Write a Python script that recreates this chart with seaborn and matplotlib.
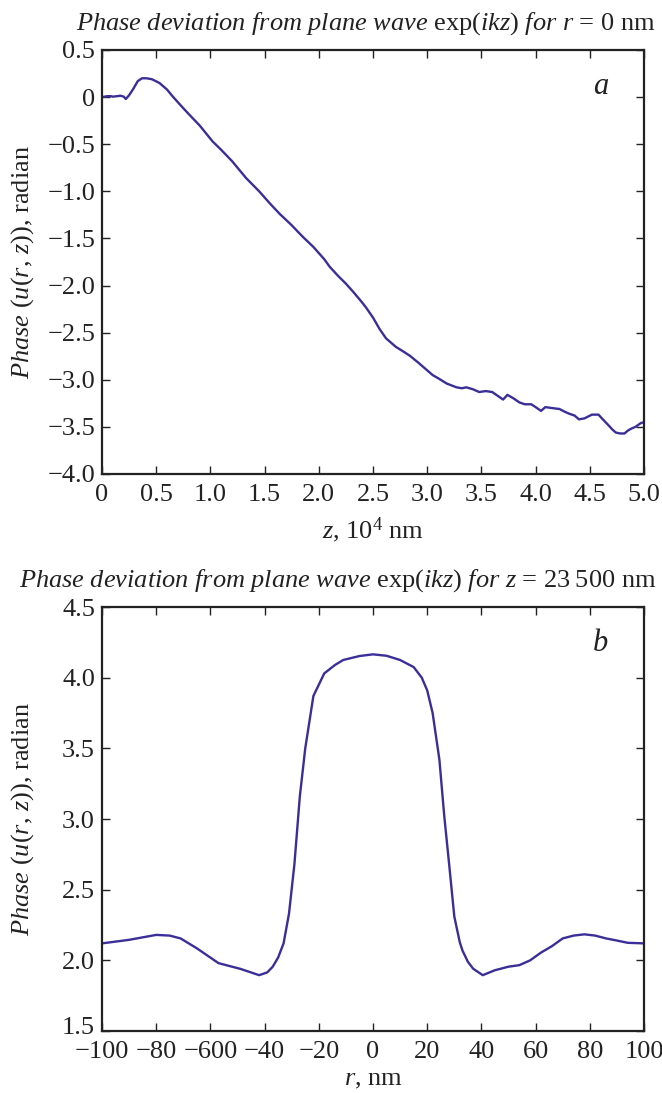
import matplotlib
matplotlib.use("Agg")
import matplotlib.pyplot as plt
import matplotlib.transforms as mtrans
import seaborn as sns
import pandas as pd

# ---- data (panel a) : z in 10^4 nm, phase in radian
z_a = [0.00, 0.05, 0.08, 0.10, 0.14, 0.17, 0.20, 0.22, 0.25, 0.29, 0.33, 0.37,
       0.41, 0.46, 0.53, 0.60, 0.65, 0.72, 0.80, 0.90, 1.02, 1.10, 1.20, 1.33,
       1.45, 1.55, 1.64, 1.75, 1.85, 1.95, 2.05, 2.10, 2.18, 2.25, 2.32, 2.40,
       2.44, 2.50, 2.56, 2.62, 2.71, 2.78, 2.84, 2.92, 2.99, 3.05, 3.11, 3.18,
       3.27, 3.32, 3.36, 3.42, 3.48, 3.54, 3.60, 3.65, 3.70, 3.74, 3.80, 3.85,
       3.90, 3.96, 4.00, 4.05, 4.09, 4.15, 4.22, 4.27, 4.31, 4.36, 4.40, 4.45,
       4.52, 4.58, 4.62, 4.67, 4.71, 4.74, 4.78, 4.82, 4.85, 4.88, 4.92, 4.97,
       5.00]
phase_a = [0.00, 0.01, 0.01, 0.005, 0.01, 0.015, 0.005, -0.02, 0.02, 0.09, 0.17,
           0.20, 0.20, 0.19, 0.15, 0.08, 0.01, -0.08, -0.18, -0.30, -0.47, -0.56,
           -0.68, -0.86, -1.00, -1.13, -1.24, -1.36, -1.48, -1.59, -1.72, -1.80,
           -1.90, -1.98, -2.07, -2.18, -2.24, -2.34, -2.46, -2.56, -2.65, -2.70,
           -2.745, -2.82, -2.89, -2.95, -2.99, -3.04, -3.08, -3.09, -3.08, -3.10,
           -3.13, -3.12, -3.13, -3.17, -3.21, -3.16, -3.20, -3.24, -3.26, -3.26,
           -3.29, -3.33, -3.29, -3.30, -3.31, -3.34, -3.36, -3.38, -3.42, -3.41,
           -3.37, -3.37, -3.42, -3.48, -3.53, -3.56, -3.57, -3.57, -3.54, -3.52,
           -3.50, -3.46, -3.45]

# ---- data (panel b) : r in nm, phase in radian
r_b = [-100, -90, -80, -75, -71, -65, -57, -49, -42, -39, -37, -35, -33, -31,
       -29, -27, -25, -22, -18, -14, -11, -5, 0, 5, 10, 15, 18, 20, 22, 24.5,
       26.3, 28.2, 30, 32, 33, 35, 37, 40.5, 45, 50, 54, 58, 62, 66, 70, 74,
       78, 82, 86, 90, 94, 100]
phase_b = [2.12, 2.145, 2.18, 2.175, 2.155, 2.085, 1.98, 1.94, 1.895, 1.915,
           1.955, 2.02, 2.12, 2.33, 2.68, 3.16, 3.50, 3.87, 4.03, 4.09, 4.125,
           4.153, 4.165, 4.155, 4.125, 4.075, 4.00, 3.91, 3.75, 3.42, 3.02, 2.66,
           2.31, 2.13, 2.07, 1.99, 1.94, 1.895, 1.93, 1.955, 1.966, 2.00, 2.055,
           2.10, 2.155, 2.175, 2.184, 2.175, 2.155, 2.14, 2.124, 2.12]

# ---- tick labels
xticks_a = [0, 0.5, 1.0, 1.5, 2.0, 2.5, 3.0, 3.5, 4.0, 4.5, 5.0]
xticklabels_a = ["0", "0.5", "1.0", "1.5", "2.0", "2.5", "3.0", "3.5", "4.0", "4.5", "5.0"]
yticks_a = [0.5, 0, -0.5, -1.0, -1.5, -2.0, -2.5, -3.0, -3.5, -4.0]
yticklabels_a = ["0.5", "0", "\u22120.5", "\u22121.0", "\u22121.5", "\u22122.0",
                 "\u22122.5", "\u22123.0", "\u22123.5", "\u22124.0"]
xticks_b = [-100, -80, -60, -40, -20, 0, 20, 40, 60, 80, 100]
xticklabels_b = ["\u2212100", "\u221280", "\u2212600", "\u221240", "\u221220", "0",
                 "20", "40", "60", "80", "100"]
yticks_b = [1.5, 2.0, 2.5, 3.0, 3.5, 4.0, 4.5]
yticklabels_b = ["1.5", "2.0", "2.5", "3.0", "3.5", "4.0", "4.5"]

sns.set_theme(style="ticks")
plt.rcParams["font.family"] = ["Liberation Serif", "DejaVu Serif"]
plt.rcParams["mathtext.fontset"] = "custom"
plt.rcParams["mathtext.rm"] = "Liberation Serif"
plt.rcParams["mathtext.it"] = "Liberation Serif:italic"
plt.rcParams["mathtext.bf"] = "Liberation Serif:bold"

LINE = "#3a2e98"
INK = "#222222"
FS = 19

fig = plt.figure(figsize=(6.62, 10.93), dpi=100)
W, H = 662, 1093
ax1 = fig.add_axes([102 / W, 1 - 474 / H, 542 / W, 424 / H])
ax2 = fig.add_axes([102 / W, 1 - 1031 / H, 542 / W, 424 / H])

df_a = pd.DataFrame({"z": z_a, "phase": phase_a})
df_b = pd.DataFrame({"r": r_b, "phase": phase_b})
sns.lineplot(data=df_a, x="z", y="phase", ax=ax1, color=LINE, lw=1.7,
             sort=False, estimator=None)
sns.lineplot(data=df_b, x="r", y="phase", ax=ax2, color=LINE, lw=1.7,
             sort=False, estimator=None)

ylab = "$Phase$ ($u$($r$, $z$)), radian"
for ax in (ax1, ax2):
    ax.tick_params(direction="in", top=True, right=True, length=6, width=1,
                   labelsize=FS, color=INK, labelcolor=INK)
    ax.tick_params(axis="x", pad=7)
    ax.tick_params(axis="y", pad=5)
    for s in ax.spines.values():
        s.set_linewidth(1.6)
        s.set_color(INK)
    ax.set_ylabel(ylab, fontsize=FS, color=INK)
    ax.yaxis.set_label_coords(-0.122, 0.5)

ax1.set_xlim(0, 5.0)
ax1.set_ylim(-4.0, 0.5)
ax1.set_xticks(xticks_a)
ax1.set_xticklabels(xticklabels_a)
ax1.set_yticks(yticks_a)
ax1.set_yticklabels(yticklabels_a)
ax1.set_xlabel("$z$, 10$^4$ nm", fontsize=FS, color=INK)
ax1.xaxis.set_label_coords(0.5, -0.097)
ax1.set_title("$Phase\\ deviation\\ from\\ plane\\ wave$ exp($ikz$) $for\\ r$ = 0 nm",
              fontsize=FS, color=INK, pad=15, x=0.487)
ax1.text(0.92, 0.915, "$a$", transform=ax1.transAxes, fontsize=FS + 3,
         ha="center", va="center", color=INK)

ax2.set_xlim(-100, 100)
ax2.set_ylim(1.5, 4.5)
ax2.set_xticks(xticks_b)
ax2.set_xticklabels(xticklabels_b)
ax2.set_yticks(yticks_b)
ax2.set_yticklabels(yticklabels_b)
ax2.set_xlabel("$r$, nm", fontsize=FS, color=INK)
ax2.xaxis.set_label_coords(0.5, -0.09)
ax2.set_title("$Phase\\ deviation\\ from\\ plane\\ wave$ exp($ikz$) $for\\ z$ = 23\u2009500 nm",
              fontsize=FS, color=INK, pad=15, x=0.4345)
ax2.text(0.92, 0.915, "$b$", transform=ax2.transAxes, fontsize=FS + 3,
         ha="center", va="center", color=INK)

# nudge the lowest y label of panel b slightly up, as in the reference
lbl = ax2.get_yticklabels()[0]
lbl.set_transform(lbl.get_transform() + mtrans.ScaledTranslation(0, 4 / 72, fig.dpi_scale_trans))

fig.savefig("out.png", dpi=100)
